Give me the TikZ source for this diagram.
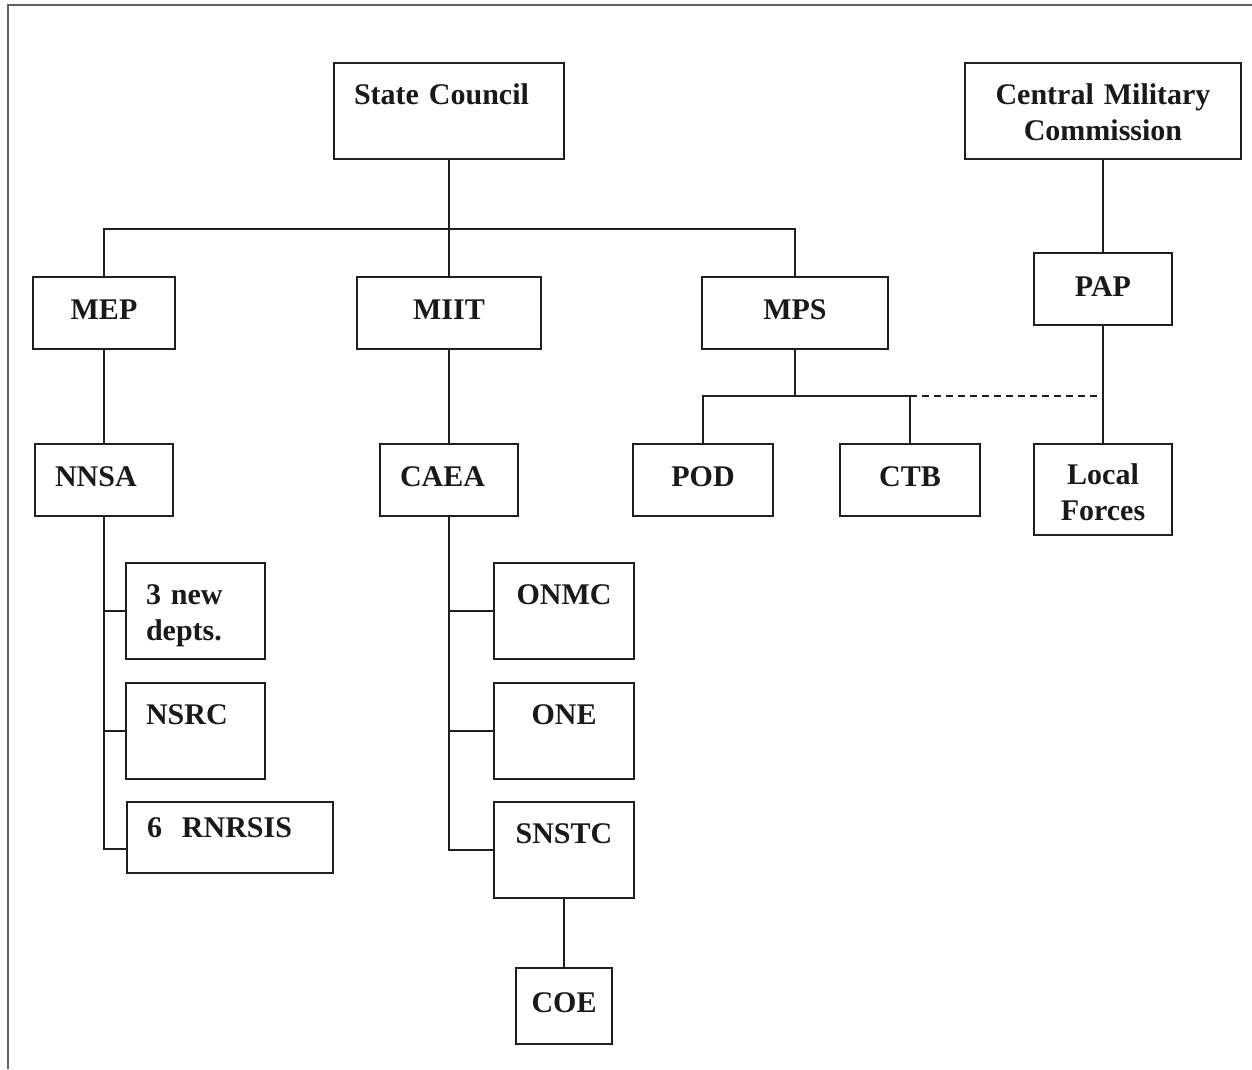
\documentclass[tikz,border=0pt]{standalone}
\usepackage{fontspec}
\setmainfont{Liberation Serif}
\begin{document}
\begin{tikzpicture}[x=1pt, y=-1pt, line width=2pt, draw=black!88,
    main/.style = {draw, line width=2.2pt, anchor=north west, inner sep=0pt, outer sep=0pt,
        align=center, text=black!90, font=\bfseries\fontsize{30}{36}\selectfont},
    flush/.style = {align=left, inner xsep=20pt, text width=#1},
    tall/.style = {text height=41pt, text depth=55pt},
    short/.style = {text height=42pt, text depth=30pt}]
    \useasboundingbox (0,0) rectangle (1252,1069);
    \draw[black!62, line width=2pt] (8,1069) -- (8,5) -- (1252,5);

    % Disegna i riquadri
    \node[main, tall, flush=190pt] (sc) at (334,63) {State Council};
    \node[main, tall, text width=276pt] (cmc) at (965,63) {Central Military\\Commission};
    \node[main, short, minimum width=142pt] (mep) at (33,277) {MEP};
    \node[main, short, minimum width=184pt] (miit) at (357,277) {MIIT};
    \node[main, short, minimum width=186pt] (mps) at (702,277) {MPS};
    \node[main, text height=43pt, text depth=29pt, minimum width=138pt] (pap) at (1034,253) {PAP};
    \node[main, short, flush=98pt] (nnsa) at (35,444) {NNSA};
    \node[main, short, flush=98pt] (caea) at (380,444) {CAEA};
    \node[main, short, minimum width=140pt] (pod) at (633,444) {POD};
    \node[main, short, minimum width=140pt] (ctb) at (840,444) {CTB};
    \node[main, text height=40pt, text depth=51pt, text width=138pt] (lf) at (1034,444) {Local\\Forces};
    \node[main, tall, flush=99pt] (depts) at (126,563) {3 new\\depts.};
    \node[main, tall, flush=99pt] (nsrc) at (126,683) {NSRC};
    \node[main, text height=35pt, text depth=36pt, flush=166pt] (rnrsis) at (127,802) {6\ \ RNRSIS};
    \node[main, tall, minimum width=140pt] (onmc) at (494,563) {ONMC};
    \node[main, tall, minimum width=140pt] (one) at (494,683) {ONE};
    \node[main, tall, minimum width=140pt] (snstc) at (494,802) {SNSTC};
    \node[main, text height=44pt, text depth=32pt, minimum width=96pt] (coe) at (516,968) {COE};

    \coordinate (bus) at (449,229);
    \coordinate (mpsbus) at (795,396);

    \draw (sc) -- (bus);
    \draw (mep.north) |- (bus) -| (mps.north);
    \draw (bus) -- (miit);
    \draw (mep) -- (nnsa);
    \draw (miit) -- (caea);
    \draw (cmc) -- (pap);
    \draw (pap) -- (lf);
    \draw (mps) -- (mpsbus);
    \draw (pod.north) |- (mpsbus) -| (ctb.north);
    \draw[dash pattern=on 7pt off 5pt] (ctb.north |- mpsbus) -- (pap.south |- mpsbus);

    \draw (nnsa.south) |- ([yshift=-11pt]rnrsis.west);
    \draw (nnsa.south |- depts.west) -- (depts.west);
    \draw (nnsa.south |- nsrc.west) -- (nsrc.west);
    \draw (caea.south) |- (snstc.west);
    \draw (caea.south |- onmc.west) -- (onmc.west);
    \draw (caea.south |- one.west) -- (one.west);
    \draw (snstc) -- (coe);
\end{tikzpicture}
\end{document}
